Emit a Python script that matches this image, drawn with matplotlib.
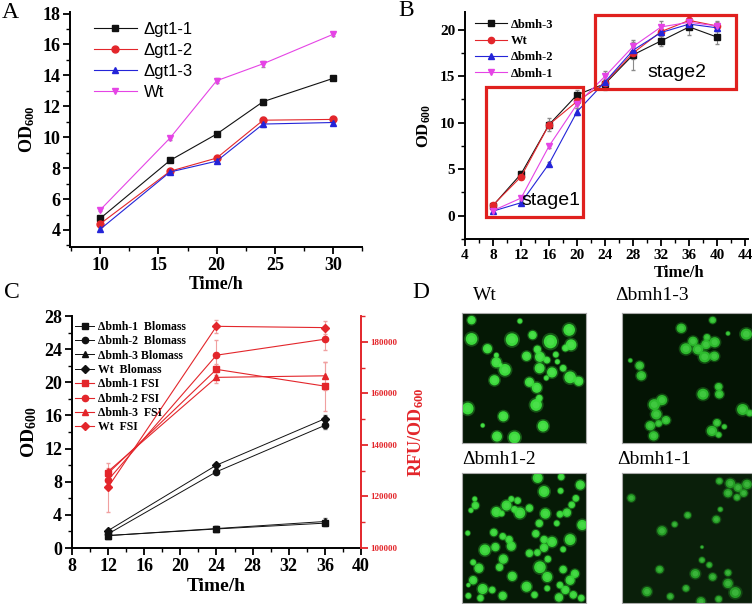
import matplotlib
matplotlib.use("Agg")
from matplotlib import pyplot as plt
from matplotlib.patches import Rectangle, Circle
import numpy as np

plt.rcParams['font.family'] = ['Liberation Serif', 'DejaVu Serif']
plt.rcParams['mathtext.fontset'] = 'custom'
plt.rcParams['mathtext.rm'] = 'Liberation Serif:bold'
plt.rcParams['mathtext.it'] = 'Liberation Serif:bold'
plt.rcParams['mathtext.bf'] = 'Liberation Serif:bold'

# ---- panel A data
a_time = [10, 16, 20, 24, 30]
a_gt1_1 = [4.75, 8.5, 10.2, 12.3, 13.8]
a_gt1_2 = [4.4, 7.8, 8.65, 11.1, 11.15]
a_gt1_3 = [4.05, 7.75, 8.45, 10.85, 10.95]
a_wt = [5.3, 9.95, 13.65, 14.75, 16.65]
a_err = [0.1, 0.1, 0.15, 0.2, 0.1]

# ---- panel B data
b_time = [8, 12, 16, 20, 24, 28, 32, 36, 40]
b_bmh3 = [1.1, 4.5, 9.8, 13.0, 14.2, 17.3, 18.8, 20.3, 19.2]
b_wt = [1.15, 4.2, 9.8, 12.3, 14.3, 17.5, 19.8, 21.0, 20.4]
b_bmh2 = [0.5, 1.4, 5.6, 11.2, 14.4, 17.8, 19.7, 20.6, 20.2]
b_bmh1 = [0.55, 1.9, 7.5, 12.0, 15.0, 18.2, 20.3, 20.8, 20.4]
b_err3 = [0.2, 0.3, 0.4, 0.5, 0.5, 1.6, 0.5, 0.9, 0.7]
b_errwt = [0.2, 0.2, 0.7, 0.4, 0.8, 0.6, 0.4, 0.3, 0.4]
b_err2 = [0.1, 0.2, 0.2, 0.4, 0.6, 0.4, 0.4, 0.3, 0.3]
b_err1 = [0.1, 0.2, 0.2, 0.4, 0.6, 0.5, 0.6, 0.3, 0.5]

# ---- panel C data
c_time = [12, 24, 36]
c_bio1 = [1.5, 2.3, 3.0]
c_bio2 = [1.7, 9.2, 14.8]
c_bio3 = [1.5, 2.35, 3.2]
c_biowt = [2.1, 10.0, 15.6]
c_bio_err = [0.2, 0.3, 0.4]
c_fsi1 = [129000, 169300, 162800]
c_fsi2 = [126400, 174800, 181000]
c_fsi3 = [129700, 166200, 166800]
c_fsiwt = [123600, 186000, 185500]
c_fsi1_err = [1500, 2000, 9500]
c_fsi2_err = [1500, 6000, 4000]
c_fsi3_err = [1500, 2000, 5500]
c_fsiwt_err = [9500, 2500, 2500]
c_labels = ['Δbmh-1  Blomass', 'Δbmh-2  Blomass', 'Δbmh-3 Blomass', 'Wt  Blomass',
            'Δbmh-1 FSI', 'Δbmh-2 FSI', 'Δbmh-3  FSI', 'Wt  FSI']

cells_wt = [(30, 22, 10), (182, 25, 6), (30, 80, 14), (157, 82, 15), (222, 68, 10), (278, 88, 16),
            (337, 52, 14), (343, 98, 13), (80, 110, 11), (108, 130, 6), (108, 152, 12), (203, 133, 11),
            (237, 112, 9), (245, 135, 12), (267, 145, 8), (295, 128, 7), (325, 108, 8), (135, 175, 14),
            (244, 170, 12), (283, 183, 12), (318, 170, 8), (340, 198, 14), (367, 210, 11), (102, 207, 12),
            (212, 213, 11), (235, 230, 12), (265, 200, 6), (243, 262, 8), (233, 283, 14), (18, 294, 14),
            (130, 318, 12), (65, 346, 5), (255, 348, 13), (110, 380, 12), (165, 383, 14), (120, 160, 5),
            (300, 150, 6)]
cells_bmh3 = [(272, 22, 8), (178, 47, 11), (318, 63, 5), (373, 65, 13), (213, 87, 11), (255, 75, 8),
              (278, 90, 12), (192, 110, 13), (228, 112, 12), (252, 97, 11), (248, 135, 13), (277, 133, 11),
              (25, 146, 5), (53, 162, 10), (58, 193, 11), (290, 227, 9), (243, 250, 13), (292, 250, 10),
              (97, 282, 13), (120, 268, 12), (103, 312, 12), (132, 330, 10), (110, 340, 8), (85, 347, 11),
              (362, 297, 13), (383, 308, 8), (285, 338, 9), (270, 363, 12), (95, 378, 11), (290, 375, 7),
              (307, 350, 6)]
cells_bmh2 = [(238, 15, 12), (312, 12, 8), (258, 57, 13), (372, 37, 11), (310, 55, 7), (40, 80, 6),
              (155, 80, 7), (42, 100, 9), (140, 100, 12), (175, 85, 8), (165, 112, 8), (108, 120, 12),
              (182, 123, 13), (212, 108, 9), (358, 78, 8), (345, 98, 8), (262, 125, 12), (308, 127, 8),
              (330, 122, 10), (125, 125, 7), (28, 115, 6), (243, 155, 9), (298, 155, 7), (378, 160, 12),
              (18, 185, 6), (100, 183, 9), (128, 195, 8), (232, 187, 9), (340, 205, 13), (148, 205, 9),
              (258, 205, 9), (283, 212, 12), (105, 228, 10), (155, 225, 11), (72, 237, 13), (212, 247, 9),
              (237, 245, 8), (258, 230, 10), (318, 235, 7), (130, 265, 11), (35, 275, 7), (270, 265, 8),
              (118, 290, 9), (53, 293, 11), (245, 290, 14), (318, 297, 9), (355, 310, 10), (158, 318, 11),
              (268, 320, 12), (340, 330, 11), (35, 330, 10), (20, 345, 5), (203, 350, 12), (308, 345, 8),
              (325, 360, 10), (65, 357, 12), (95, 360, 8), (268, 355, 7), (350, 375, 9), (228, 375, 8),
              (58, 385, 8), (128, 378, 10), (305, 383, 10), (20, 378, 7), (375, 385, 8)]
cells_bmh1 = [(292, 25, 8), (325, 32, 11), (348, 45, 10), (375, 35, 11), (318, 62, 10), (345, 75, 8),
              (365, 62, 9), (28, 77, 9), (295, 112, 6), (197, 130, 8), (283, 143, 9), (158, 158, 7),
              (120, 178, 11), (240, 228, 4), (240, 268, 7), (262, 283, 7), (113, 297, 9), (220, 310, 11),
              (272, 320, 9), (318, 307, 8), (318, 340, 11), (192, 355, 8), (340, 368, 13), (75, 365, 11),
              (145, 380, 8), (237, 395, 10), (290, 388, 8)]

BLACK = '#111111'
RED = '#e3262b'
BLUE = '#2424d8'
MAG = '#e544e5'


def style_axis(ax, size):
    ax.spines['top'].set_visible(False)
    ax.spines['right'].set_visible(False)
    for s in ['left', 'bottom']:
        ax.spines[s].set_linewidth(1.4)
    ax.tick_params(which='major', direction='out', length=5, width=1.3, labelsize=size, pad=2)
    ax.tick_params(which='minor', direction='out', length=3, width=1.0)
    for lab in ax.get_xticklabels() + ax.get_yticklabels():
        lab.set_fontweight('bold')


fig = plt.figure(figsize=(7.52, 6.04), dpi=100)

# ================= A
axA = fig.add_axes([0.0931, 0.5911, 0.3883, 0.3891])
for y, c, m, lab in [(a_gt1_1, BLACK, 's', 'Δgt1-1'), (a_gt1_2, RED, 'o', 'Δgt1-2'),
                     (a_gt1_3, BLUE, '^', 'Δgt1-3'), (a_wt, MAG, 'v', 'Wt')]:
    axA.errorbar(a_time, y, yerr=a_err, color=c, marker=m, markersize=5, lw=0.8,
                 ecolor='#999999', elinewidth=0.8, capsize=1.5, label=lab)
axA.set_xlim(7.4, 32.5)
axA.set_ylim(2.9, 18.1)
axA.set_xticks([10, 15, 20, 25, 30])
axA.set_xticks(np.arange(7.5, 32.6, 2.5), minor=True)
axA.set_yticks(np.arange(4, 19, 2))
axA.set_yticks(np.arange(3, 18.1, 1), minor=True)
style_axis(axA, 13)
axA.set_ylabel('OD$_{600}$', fontsize=13, fontweight='bold', labelpad=4)
axA.set_xlabel('Time/h', fontsize=13, fontweight='bold', labelpad=2)
handles, labels = axA.get_legend_handles_labels()
handles = [h[0] for h in handles]
axA.legend(handles, labels, loc='upper left', bbox_to_anchor=(0.03, 1.02), frameon=False,
           prop={'family': 'Liberation Sans', 'size': 12}, handlelength=2.6,
           labelspacing=0.35, handletextpad=0.4)

# ================= B
axB = fig.add_axes([0.6184, 0.6043, 0.3763, 0.3758])
for y, e, c, m, lab in [(b_bmh3, b_err3, BLACK, 's', 'Δbmh-3'), (b_wt, b_errwt, RED, 'o', 'Wt'),
                        (b_bmh2, b_err2, BLUE, '^', 'Δbmh-2'), (b_bmh1, b_err1, MAG, 'v', 'Δbmh-1')]:
    axB.errorbar(b_time, y, yerr=e, color=c, marker=m, markersize=4.5, lw=0.8,
                 ecolor='#8a8a8a', elinewidth=0.8, capsize=1.5, label=lab)
axB.set_xlim(4, 44.4)
axB.set_ylim(-2.5, 21.9)
axB.set_xticks(np.arange(4, 45, 4))
axB.set_xticks(np.arange(4, 45, 2), minor=True)
axB.set_yticks([0, 5, 10, 15, 20])
axB.set_yticks(np.arange(-2.5, 21.9, 2.5), minor=True)
style_axis(axB, 11)
axB.set_ylabel('OD$_{600}$', fontsize=12, fontweight='bold', labelpad=5)
axB.set_xlabel('Time/h', fontsize=12, fontweight='bold', labelpad=0)
axB.xaxis.set_label_coords(0.756, -0.115)
handles, labels = axB.get_legend_handles_labels()
handles = [h[0] for h in handles]
axB.legend(handles, labels, loc='upper left', bbox_to_anchor=(-0.005, 1.02), frameon=False,
           prop={'family': 'Liberation Serif', 'weight': 'bold', 'size': 9}, handlelength=2.6,
           labelspacing=0.35, handletextpad=0.3)
axB.add_patch(Rectangle((7.0, -0.1), 13.9, 13.9, fill=False, ec='#e0201e', lw=2.3, clip_on=False, zorder=5))
axB.add_patch(Rectangle((22.6, 13.65), 20.1, 7.95, fill=False, ec='#e0201e', lw=2.3, clip_on=False, zorder=5))
axB.text(16.3, 1.6, 'stage1', fontsize=14, family='Liberation Sans', ha='center', va='center', zorder=6)
axB.text(34.2, 15.4, 'stage2', fontsize=14, family='Liberation Sans', ha='center', va='center', zorder=6)

# ================= C
axC = fig.add_axes([0.0957, 0.0927, 0.3843, 0.3841])
axC2 = axC.twinx()
lines = []
for y, m in [(c_bio1, 's'), (c_bio2, 'o'), (c_bio3, '^'), (c_biowt, 'D')]:
    h = axC.errorbar(c_time, y, yerr=c_bio_err, color=BLACK, marker=m, markersize=4.5, lw=0.7,
                     ecolor='#777777', elinewidth=0.8, capsize=1.5)
    lines.append(h[0])
for y, e, m in [(c_fsi1, c_fsi1_err, 's'), (c_fsi2, c_fsi2_err, 'o'),
                (c_fsi3, c_fsi3_err, '^'), (c_fsiwt, c_fsiwt_err, 'D')]:
    h = axC2.errorbar(c_time, y, yerr=e, color=RED, marker=m, markersize=4.5, lw=0.8,
                      ecolor='#f0a0a0', elinewidth=0.8, capsize=1.5)
    lines.append(h[0])
axC.set_xlim(8, 40)
axC.set_ylim(0, 28)
axC.set_xticks(np.arange(8, 41, 4))
axC.set_xticks(np.arange(8, 41, 2), minor=True)
axC.set_yticks(np.arange(0, 29, 4))
axC.set_yticks(np.arange(0, 29, 2), minor=True)
style_axis(axC, 13)
axC.set_ylabel('OD$_{600}$', fontsize=14, fontweight='bold', labelpad=4)
axC.set_xlabel('Time/h', fontsize=14, fontweight='bold', labelpad=2)

axC2.set_ylim(100000, 190000)
axC2.set_yticks(np.arange(100000, 180001, 20000))
axC2.set_yticks(np.arange(100000, 190001, 10000), minor=True)
for s in ['top', 'left', 'bottom']:
    axC2.spines[s].set_visible(False)
axC2.spines['right'].set_color(RED)
axC2.spines['right'].set_linewidth(1.4)
axC2.tick_params(which='major', direction='out', length=5, width=1.3, colors=RED, labelsize=6.5, pad=2)
axC2.tick_params(which='minor', direction='out', length=3, width=1.0, colors=RED)
for lab in axC2.get_yticklabels():
    lab.set_fontweight('bold')
axC2.set_ylabel('RFU/OD$_{600}$', fontsize=13, fontweight='bold', color=RED, labelpad=6)
axC.legend(lines, c_labels, loc='upper left', bbox_to_anchor=(-0.025, 1.025),
           frameon=False, prop={'family': 'Liberation Serif', 'weight': 'bold', 'size': 8.5},
           handlelength=1.6, labelspacing=0.2, handletextpad=0.3)

# ================= D
panels = [([0.6144, 0.2666, 0.1649, 0.2152], cells_wt, '#3ee03e', '#051805', 'Wt', 473, 295),
          ([0.8271, 0.2666, 0.1729, 0.2152], cells_bmh3, '#2fbe2f', '#041404', 'Δbmh1-3', 615, 295),
          ([0.6144, 0.0017, 0.1649, 0.2152], cells_bmh2, '#38d838', '#061a06', 'Δbmh1-2', 462, 460),
          ([0.8271, 0.0017, 0.1729, 0.2152], cells_bmh1, '#27a027', '#0a1f0a', 'Δbmh1-1', 617, 460)]
for rect, cells, col, bg, title, tx, ty in panels:
    ax = fig.add_axes(rect)
    ax.set_facecolor(bg)
    ax.set_xlim(0, 390)
    ax.set_ylim(400, 0)
    ax.set_xticks([])
    ax.set_yticks([])
    for s in ax.spines.values():
        s.set_color('#aaaaaa')
        s.set_linewidth(0.8)
    for x, y, r in cells:
        r = r * 1.3
        ax.add_patch(Circle((x, y), r * 1.3, color=col, alpha=0.3, lw=0))
        ax.add_patch(Circle((x, y), r, color=col, alpha=0.95, lw=0))
        ax.add_patch(Circle((x, y), r * 0.6, color='#6bf06b', alpha=0.3, lw=0))
    fig.text(tx / 752, 1 - ty / 604, title, fontsize=14, ha='left', va='center')

# panel letters
for letter, x, y in [('A', 2, 12), ('B', 398, 11), ('C', 4, 293), ('D', 412, 293)]:
    fig.text(x / 752, 1 - y / 604, letter, fontsize=17, ha='left', va='center')

fig.savefig('out.png', dpi=100)
